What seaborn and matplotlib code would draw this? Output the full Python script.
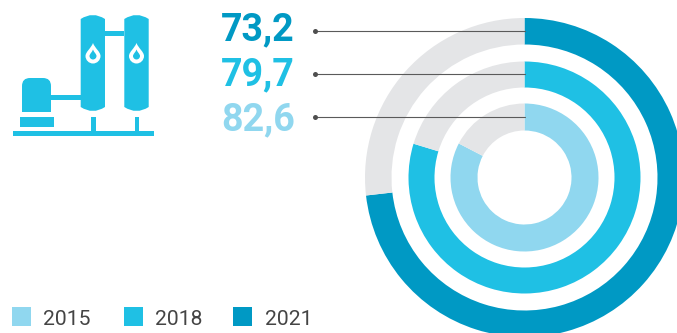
import matplotlib
matplotlib.use("Agg")
import matplotlib.pyplot as plt
from matplotlib.patches import PathPatch, Rectangle
from matplotlib.path import Path
import seaborn as sns

years = ["2015", "2018", "2021"]
shares = [82.6, 79.7, 73.2]
value_labels = ["82,6", "79,7", "73,2"]
colors = ["#90D7EF", "#1FC0E4", "#0099C4"]
GRAY = "#E4E5E7"
ICON = "#1FC0E4"
H = 333

sns.set_theme(style="white")
plt.rcParams["font.family"] = ["Roboto", "DejaVu Sans"]

fig = plt.figure(figsize=(6.77, 3.33), dpi=100)
ax = fig.add_axes([0, 0, 1, 1])


def yy(py):
    # picture pixels count from the top, the axes from the bottom
    return H - py


# Rings
center = (524.5, yy(177.5))
outer = [74, 116, 159.5]
inner = [47, 90, 133]
for share, color, r_out, r_in in zip(shares, colors, outer, inner):
    ax.pie([share, 100 - share], colors=[color, GRAY], radius=r_out, center=center,
           startangle=90, counterclock=False, frame=True,
           wedgeprops=dict(width=r_out - r_in, linewidth=0))

# Values and leader lines
text_y = [130.5, 85.5, 40.5]
line_y = [117, 74, 30.5]
for label, color, ty, ly in zip(value_labels, colors, text_y, line_y):
    ax.text(295, yy(ty), label, color=color, fontsize=27.1, fontweight="bold",
            ha="right", va="baseline")
    ax.plot([315, 525], [yy(ly), yy(ly)], color="#5A5A5A", lw=0.8, zorder=5)
    ax.plot([315], [yy(ly)], "o", color="#4F4F4F", ms=3.6, mew=0, zorder=5)

# Legend
legend_x = [12, 124, 233]
for year, color, x in zip(years, colors, legend_x):
    ax.add_patch(Rectangle((x, yy(326)), 19, 19, color=color, lw=0))
    ax.text(x + 31.5, yy(324.6), year, color="#444444", fontsize=15.2, fontweight="normal",
            ha="left", va="baseline")


# Icon
def tank(x0, x1, top=15, bottom=111, dome=4):
    mid = (x0 + x1) / 2
    verts = [(x0, yy(top + dome)), (mid, yy(top - dome)), (x1, yy(top + dome)),
             (x1, yy(bottom - dome)), (mid, yy(bottom + dome)), (x0, yy(bottom - dome)),
             (x0, yy(top + dome))]
    codes = [Path.MOVETO, Path.CURVE3, Path.CURVE3, Path.LINETO,
             Path.CURVE3, Path.CURVE3, Path.CLOSEPOLY]
    return PathPatch(Path(verts, codes), color=ICON, lw=0)


def drop(cx, tip, bottom, half, color):
    mid = bottom - half
    k = half * 0.55
    verts = [(cx, yy(tip)),
             (cx + half * 0.25, yy(tip + (mid - tip) * 0.4)), (cx + half, yy(mid - k)), (cx + half, yy(mid)),
             (cx + half, yy(mid + k)), (cx + k, yy(bottom)), (cx, yy(bottom)),
             (cx - k, yy(bottom)), (cx - half, yy(mid + k)), (cx - half, yy(mid)),
             (cx - half, yy(mid - k)), (cx - half * 0.25, yy(tip + (mid - tip) * 0.4)), (cx, yy(tip))]
    codes = [Path.MOVETO] + [Path.CURVE4] * 12
    return PathPatch(Path(verts, codes), color=color, lw=0, zorder=4)


def box(x0, y0, x1, y1):
    ax.add_patch(Rectangle((x0, yy(y1)), x1 - x0, y1 - y0, color=ICON, lw=0))


ax.add_patch(tank(80.7, 105))
ax.add_patch(tank(124.3, 148.7))
box(105, 31, 124.3, 36)
box(51, 94.5, 81, 99.5)
box(20, 117, 54, 127)
box(12.7, 131.3, 154, 136)
box(91, 117, 95.5, 132)
box(134.5, 117, 139, 132)

# compressor body with rounded top
verts = [(22, yy(112)), (22, yy(86)), (22, yy(78)), (30, yy(78)), (43, yy(78)),
         (51, yy(78)), (51, yy(86)), (51, yy(112)), (22, yy(112))]
codes = [Path.MOVETO, Path.LINETO, Path.CURVE3, Path.CURVE3, Path.LINETO,
         Path.CURVE3, Path.CURVE3, Path.LINETO, Path.CLOSEPOLY]
ax.add_patch(PathPatch(Path(verts, codes), color=ICON, lw=0))

for cx in [93, 136.5]:
    ax.add_patch(drop(cx, 43, 63.5, 7.5, "white"))
    ax.add_patch(drop(cx, 49.5, 59.5, 3.5, ICON))

ax.set_xlim(0, 677)
ax.set_ylim(0, H)
ax.set_aspect("auto")
ax.axis("off")
fig.savefig("out.png", dpi=100, facecolor="white")
